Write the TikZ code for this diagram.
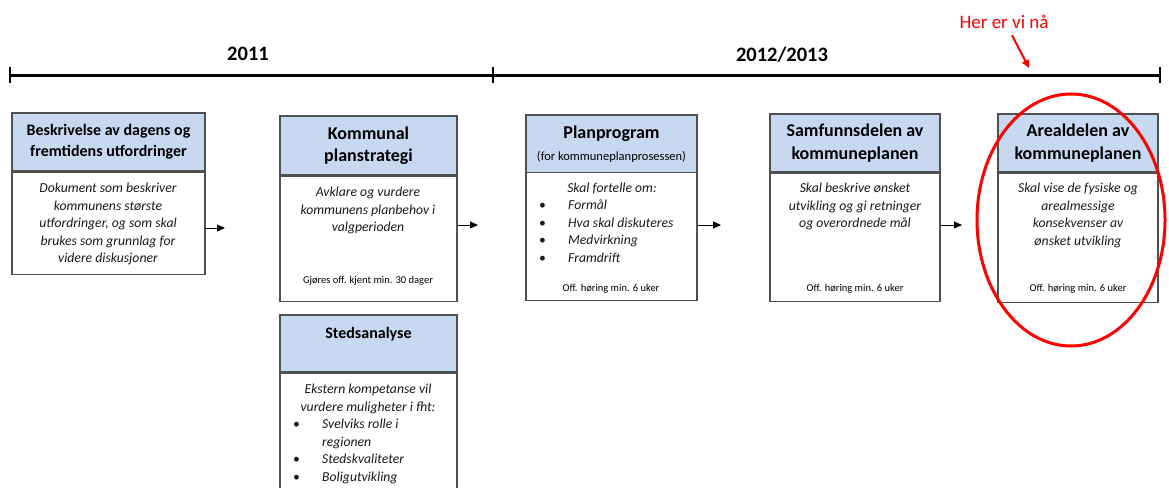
\documentclass[tikz,border=0pt]{standalone}
\usepackage{fontspec}
\setmainfont{Carlito}
\usetikzlibrary{arrows.meta}
\definecolor{hdrblue}{HTML}{C6D9F1}
\definecolor{boxgray}{HTML}{505050}
\definecolor{txtgray}{HTML}{1A1A1A}
\tikzset{
  hdr/.style={draw=boxgray, fill=hdrblue, line width=1.1pt, align=center,
    font=\fontsize{18}{22.5}\selectfont\bfseries, inner sep=0pt},
  bodybox/.style={draw=boxgray, fill=white, line width=1.1pt, anchor=north, inner sep=0pt},
  bodytxt/.style={align=center, anchor=north, inner sep=0pt, text=txtgray,
    font=\fontsize{13.7}{17.5}\selectfont\itshape},
  listtxt/.style={align=left, anchor=north west, inner sep=0pt, text=txtgray,
    font=\fontsize{13.7}{17.5}\selectfont\itshape},
  foot/.style={inner sep=0pt, font=\fontsize{10.5}{12}\selectfont},
  arr/.style={line width=1pt, -{Triangle[length=8pt,width=7pt]}},
}
\newcommand{\blt}{\makebox[29pt][l]{\upshape\textbullet}}
\begin{document}
\begin{tikzpicture}[x=1pt, y=-1pt]
  \useasboundingbox (0,0) rectangle (1169,487);

  \draw[line width=3pt] (10,75) -- (1160,75);
  \draw[line width=2.5pt] (10,67) -- (10,83);
  \draw[line width=2.5pt] (493,67) -- (493,83);
  \draw[line width=2.5pt] (1160,67) -- (1160,83);
  \node[font=\fontsize{20.5}{22}\selectfont\bfseries] (aar1) at (248,54) {2011};
  \node[font=\fontsize{20.5}{22}\selectfont\bfseries] (aar2) at (782,55) {2012/2013};

  \node[hdr, font=\fontsize{16}{21}\selectfont\bfseries, minimum width=193pt, minimum height=58pt] (beskH) at (108.5,142) {Beskrivelse av dagens og\\fremtidens utfordringer};
  \node[bodybox, minimum width=193pt, minimum height=102pt] (beskB) at (beskH.south) {};
  \node[bodytxt] (beskT) at (108,183) {Dokument som beskriver\\kommunens største\\utfordringer, og som skal\\brukes som grunnlag for\\videre diskusjoner};

  \node[hdr, minimum width=177pt, minimum height=59pt] (stratH) at (368.5,145.5) {Kommunal\\planstrategi};
  \node[bodybox, minimum width=177pt, minimum height=125pt] (stratB) at (stratH.south) {};
  \node[bodytxt] (stratT) at (368,187) {Avklare og vurdere\\kommunens planbehov i\\valgperioden};
  \node[foot] (stratF) at (368,281) {Gjøres off. kjent min. 30 dager};

  \node[hdr, font=\fontsize{16}{21}\selectfont\bfseries, minimum width=177pt, minimum height=57pt] (stedH) at (368.5,343.5) {Stedsanalyse\\\mbox{}};
  \node[bodybox, minimum width=177pt, minimum height=140pt] (stedB) at (stedH.south) {};
  \node[bodytxt] (stedT) at (368,384) {Ekstern kompetanse vil\\vurdere muligheter i fht:};
  \node[listtxt] (stedL) at (293,419) {\blt Svelviks rolle i\\\makebox[29pt]{}regionen\\\blt Stedskvaliteter\\\blt Boligutvikling};

  \node[hdr, minimum width=171pt, minimum height=58pt] (progH) at (611.5,144) {Planprogram\\[-1pt]{\fontsize{12.5}{14}\selectfont\mdseries (for kommuneplanprosessen)}};
  \node[bodybox, minimum width=171pt, minimum height=128pt, anchor=north] (progB) at (611.5,172) {};
  \node[bodytxt] (progT) at (612,183) {Skal fortelle om:};
  \node[listtxt] (progL) at (539,200) {\blt Formål\\\blt Hva skal diskuteres\\\blt Medvirkning\\\blt Framdrift};
  \node[foot] (progF) at (611,289) {Off. høring min. 6 uker};

  \node[hdr, minimum width=170pt, minimum height=58pt] (samfH) at (855,143) {Samfunnsdelen av\\kommuneplanen};
  \node[bodybox, minimum width=170pt, minimum height=128pt] (samfB) at (samfH.south) {};
  \node[bodytxt] (samfT) at (855,183) {Skal beskrive ønsket\\utvikling og gi retninger\\og overordnede mål};
  \node[foot] (samfF) at (855,289) {Off. høring min. 6 uker};

  \node[hdr, minimum width=160pt, minimum height=58pt] (arealH) at (1078,143) {Arealdelen av\\kommuneplanen};
  \node[bodybox, minimum width=160pt, minimum height=129pt] (arealB) at (arealH.south) {};
  \node[bodytxt] (arealT) at (1078,183) {Skal vise de fysiske og\\arealmessige\\konsekvenser av\\ønsket utvikling};
  \node[foot] (arealF) at (1078,289) {Off. høring min. 6 uker};

  \coordinate (e1) at (225,228);
  \coordinate (e2) at (478,225);
  \coordinate (e3) at (721,225);
  \coordinate (e4) at (962,225);
  \draw[arr] (beskB.east |- e1) -- (e1);
  \draw[arr] (stratB.east |- e2) -- (e2);
  \draw[arr] (progB.east |- e3) -- (e3);
  \draw[arr] (samfB.east |- e4) -- (e4);

  \draw[red, line width=3pt] (1071,220) ellipse (94 and 126);
  \node[text=red, font=\fontsize{19}{21}\selectfont] (naa) at (1004,22) {Her er vi nå};
  \coordinate (naaTip) at (1029,68);
  \draw[red, line width=2pt, -{Triangle[length=8pt,width=7pt]}] ([xshift=8pt,yshift=-3pt]naa.south) -- (naaTip);
\end{tikzpicture}
\end{document}
